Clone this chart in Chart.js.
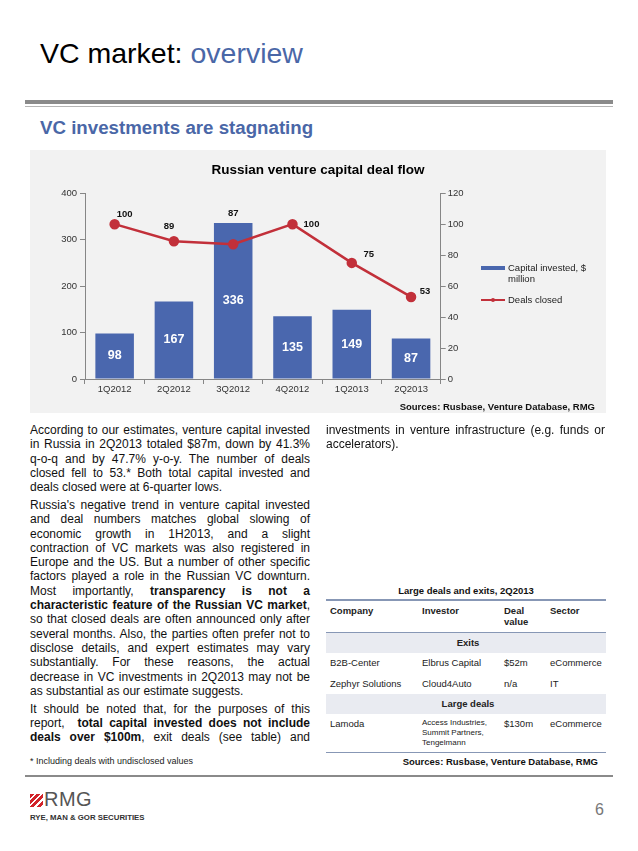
<!DOCTYPE html>
<html>
<head>
<meta charset="utf-8">
<script src="https://cdn.jsdelivr.net/npm/chart.js@4"></script>
<style>
  body { margin: 0; background: #fff; font-family: "Liberation Sans", Arial, sans-serif; color: #111; }
  .page { position: relative; width: 638px; height: 851px; overflow: hidden; }
  .abs { position: absolute; }
  .title { left: 40px; top: 37px; font-size: 28.5px; white-space: nowrap; color: #000; }
  .title span { color: #4a67a7; }
  .rule1 { left: 25px; top: 100px; width: 588px; height: 4px; background: #8a8a8a; }
  .rule2 { left: 25px; top: 106px; width: 588px; height: 1px; background: #b5b5b5; }
  .subtitle { left: 40px; top: 117px; font-size: 18.7px; font-weight: bold; color: #4a67a7; white-space: nowrap; }
  .panel { left: 30px; top: 150px; width: 576px; height: 263px; background: #f2f2f2; }
  .legend { font-size: 9.5px; color: #222; line-height: 11px; }
  .src { font-size: 9.5px; font-weight: bold; color: #111; white-space: nowrap; }
  .col { font-size: 12px; line-height: 14.3px; width: 280px; }
  .col .l { white-space: nowrap; text-align: justify; text-align-last: justify; }
  .col .e { white-space: nowrap; }
  .col .gap { height: 3.5px; }
  .foot { font-size: 9px; color: #222; white-space: nowrap; }
  table { border-collapse: collapse; font-size: 9.5px; color: #222; }
  .tbl { left: 326px; top: 600px; width: 280px; }
  .tbl td { padding: 0 0 0 4px; vertical-align: top; }
  .band td { background: #e9ebf1; text-align: center; font-weight: bold; height: 20px; vertical-align: middle; }
</style>
</head>
<body>
<div class="page">
  <div class="abs title">VC market: <span>overview</span></div>
  <div class="abs rule1"></div>
  <div class="abs rule2"></div>
  <div class="abs subtitle">VC investments are stagnating</div>

  <div class="abs panel"></div>
  <div class="abs" style="left:30px;top:150px;width:576px;height:263px;">
    <canvas id="chart" width="576" height="263"></canvas>
  </div>
  <div class="abs legend" id="legend" style="left:481px;top:262px;width:110px;"></div>
  <div class="abs src" style="right:43px;top:401px;">Sources: Rusbase, Venture Database, RMG</div>

  <div class="abs col" style="left:30px;top:423px;">
    <div class="l">According to our estimates, venture capital invested</div>
    <div class="l">in Russia in 2Q2013 totaled $87m, down by 41.3%</div>
    <div class="l">q-o-q and by 47.7% y-o-y. The number of deals</div>
    <div class="l">closed fell to 53.* Both total capital invested and</div>
    <div class="e">deals closed were at 6-quarter lows.</div>
    <div class="gap"></div>
    <div class="l">Russia's negative trend in venture capital invested</div>
    <div class="l">and deal numbers matches global slowing of</div>
    <div class="l">economic growth in 1H2013, and a slight</div>
    <div class="l">contraction of VC markets was also registered in</div>
    <div class="l">Europe and the US. But a number of other specific</div>
    <div class="l">factors played a role in the Russian VC downturn.</div>
    <div class="l">Most importantly, <b>transparency is not a</b></div>
    <div class="l"><b>characteristic feature of the Russian VC market</b>,</div>
    <div class="l">so that closed deals are often announced only after</div>
    <div class="l">several months. Also, the parties often prefer not to</div>
    <div class="l">disclose details, and expert estimates may vary</div>
    <div class="l">substantially. For these reasons, the actual</div>
    <div class="l">decrease in VC investments in 2Q2013 may not be</div>
    <div class="e">as substantial as our estimate suggests.</div>
    <div class="gap"></div>
    <div class="l">It should be noted that, for the purposes of this</div>
    <div class="l">report, &nbsp;<b>total capital invested does not include</b></div>
    <div class="l"><b>deals over $100m</b>, exit deals (see table) and</div>
  </div>
  <div class="abs foot" style="left:30px;top:756px;">* Including deals with undisclosed values</div>

  <div class="abs col" style="left:326px;top:423px;width:279px;">
    <div class="l">investments in venture infrastructure (e.g. funds or</div>
    <div class="e">accelerators).</div>
  </div>

  <div class="abs" style="left:326px;top:585px;width:280px;text-align:center;font-size:9.5px;font-weight:bold;">Large deals and exits, 2Q2013</div>
  <div class="abs" style="left:326px;top:599px;width:280px;height:1.5px;background:#8797b5;"></div>
  <div class="abs tbl">
    <table style="width:280px;">
      <colgroup><col style="width:92px"><col style="width:82px"><col style="width:46px"><col style="width:60px"></colgroup>
      <tr style="font-weight:bold;height:32px;"><td style="padding-top:5px">Company</td><td style="padding-top:5px">Investor</td><td style="padding-top:5px;line-height:11px">Deal<br>value</td><td style="padding-top:5px">Sector</td></tr>
      <tr class="band" style="border-top:1.5px solid #8797b5;"><td colspan="4">Exits</td></tr>
      <tr style="height:20px"><td style="vertical-align:middle">B2B-Center</td><td style="vertical-align:middle">Elbrus Capital</td><td style="vertical-align:middle">$52m</td><td style="vertical-align:middle">eCommerce</td></tr>
      <tr style="height:21px"><td style="vertical-align:middle">Zephyr Solutions</td><td style="vertical-align:middle">Cloud4Auto</td><td style="vertical-align:middle">n/a</td><td style="vertical-align:middle">IT</td></tr>
      <tr class="band"><td colspan="4">Large deals</td></tr>
      <tr style="height:39px;border-bottom:1.5px solid #8797b5;"><td style="padding-top:4px">Lamoda</td><td style="padding-top:4px;font-size:8px;line-height:10px">Access Industries,<br>Summit Partners,<br>Tengelmann</td><td style="padding-top:4px">$130m</td><td style="padding-top:4px">eCommerce</td></tr>
    </table>
  </div>
  <div class="abs src" style="right:40px;top:756px;">Sources: Rusbase, Venture Database, RMG</div>

  <div class="abs" style="left:25px;top:775px;width:588px;height:2px;background:#8a8a8a;"></div>
  <div class="abs" style="left:30px;top:794px;width:13px;height:13px;background:repeating-linear-gradient(135deg,#d2232a 0 3px,#fff 3px 4.5px);"></div>
  <div class="abs" style="left:44px;top:788px;font-size:20px;color:#555;letter-spacing:0.5px;">RMG</div>
  <div class="abs" style="left:30px;top:813px;font-size:7.8px;font-weight:bold;color:#333;white-space:nowrap;">RYE, MAN &amp; GOR SECURITIES</div>
  <div class="abs" style="left:595px;top:801px;font-size:16px;color:#777;">6</div>
</div>

<script>
// dữ liệu của biểu đồ
const quarters = ['1Q2012', '2Q2012', '3Q2012', '4Q2012', '1Q2013', '2Q2013'];
const capitalInvested = [98, 167, 336, 135, 149, 87];
const dealsClosed = [100, 89, 87, 100, 75, 53];
const leftTicks = [0, 100, 200, 300, 400];
const rightTicks = [0, 20, 40, 60, 80, 100, 120];

// vị trí nhãn của đường (như trong Excel, đặt tay)
const lineLabelOffsets = [[10, -10], [-5, -15], [0, -31], [19, 0], [17, -9], [14, -6]];

const barColor = '#4a67ae';
const lineColor = '#c2303a';
const axisColor = '#868686';
const tickFont = { family: 'Liberation Sans', size: 9.5 };

const valueLabels = {
    id: 'valueLabels',
    afterDatasetsDraw(chart) {
        const c = chart.ctx;
        c.save();
        c.textAlign = 'center';
        c.textBaseline = 'middle';
        chart.getDatasetMeta(0).data.forEach((bar, i) => {
            c.font = 'bold 12.5px "Liberation Sans"';
            c.fillStyle = '#fff';
            c.fillText(capitalInvested[i], bar.x, (bar.y + bar.base) / 2);
        });
        chart.getDatasetMeta(1).data.forEach((pt, i) => {
            c.font = 'bold 9.5px "Liberation Sans"';
            c.fillStyle = '#111';
            const o = lineLabelOffsets[i];
            c.fillText(dealsClosed[i], pt.x + o[0], pt.y + o[1]);
        });
        c.restore();
    }
};

const ctx = document.getElementById('chart').getContext('2d');
const myChart = new Chart(ctx, {
    data: {
        labels: quarters,
        datasets: [{
            type: 'bar',
            label: 'Capital invested, $ million',
            data: capitalInvested,
            backgroundColor: barColor,
            yAxisID: 'y',
            barPercentage: 0.65,
            categoryPercentage: 1,
            order: 2
        }, {
            type: 'line',
            label: 'Deals closed',
            data: dealsClosed,
            borderColor: lineColor,
            backgroundColor: lineColor,
            borderWidth: 2.5,
            pointRadius: 4,
            pointHoverRadius: 4,
            yAxisID: 'y1',
            order: 1
        }]
    },
    options: {
        responsive: false,
        animation: false,
        layout: { padding: 0 },
        plugins: {
            legend: { display: false },
            tooltip: { enabled: false },
            title: {
                display: true,
                text: 'Russian venture capital deal flow',
                color: '#000',
                font: { family: 'Liberation Sans', size: 13.5, weight: 'bold' },
                padding: { top: 12, bottom: 15 }
            }
        },
        scales: {
            x: {
                grid: { display: true, drawOnChartArea: false, drawTicks: true, tickLength: 5, color: axisColor, offset: true },
                border: { color: axisColor },
                ticks: { color: '#333', font: tickFont, padding: 0, maxRotation: 0 },
                afterFit(scale) { scale.height = 34; }
            },
            y: {
                position: 'left',
                min: 0, max: 400,
                afterBuildTicks(scale) { scale.ticks = leftTicks.map(v => ({ value: v })); },
                grid: { drawOnChartArea: false, drawTicks: true, tickLength: 5, color: axisColor },
                border: { color: axisColor },
                ticks: { color: '#333', font: tickFont, padding: 3 },
                afterFit(scale) { scale.width = 55; }
            },
            y1: {
                position: 'right',
                min: 0, max: 120,
                afterBuildTicks(scale) { scale.ticks = rightTicks.map(v => ({ value: v })); },
                grid: { drawOnChartArea: false, drawTicks: true, tickLength: 5, color: axisColor },
                border: { color: axisColor },
                ticks: { color: '#333', font: tickFont, padding: 2 },
                afterFit(scale) { scale.width = 165.3; }
            }
        }
    },
    plugins: [valueLabels]
});

// chú giải dạng HTML (nhãn hai dòng như bản gốc)
const legendEl = document.getElementById('legend');
legendEl.innerHTML =
    '<div style="position:relative;height:24px;">' +
    '<span style="position:absolute;left:0;top:4px;width:24px;height:4px;background:' + barColor + '"></span>' +
    '<span style="position:absolute;left:27px;top:0;">' + myChart.data.datasets[0].label.replace(' million', '<br>million') + '</span></div>' +
    '<div style="position:relative;height:14px;margin-top:8px;">' +
    '<span style="position:absolute;left:0;top:5px;width:24px;height:2px;background:' + lineColor + '"></span>' +
    '<span style="position:absolute;left:10px;top:4px;width:4px;height:4px;border-radius:2px;background:' + lineColor + '"></span>' +
    '<span style="position:absolute;left:27px;top:0;">' + myChart.data.datasets[1].label + '</span></div>';
</script>
</body>
</html>
